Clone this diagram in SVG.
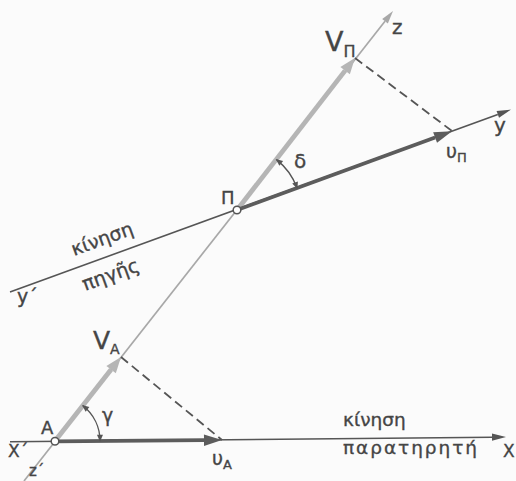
<svg xmlns="http://www.w3.org/2000/svg" width="516" height="481" viewBox="0 0 516 481">
<defs>
<style>
.t{font-family:"DejaVu Sans","Liberation Sans",sans-serif;fill:#454545;stroke:#454545;stroke-width:0.35}
.ax{stroke:#555;stroke-width:1.6;fill:none}
.zax{stroke:#a8a8a8;stroke-width:1.7;fill:none}
.vv{stroke:#b5b5b5;stroke-width:4.8;fill:none}
.uu{stroke:#5c5c5c;stroke-width:3.8;fill:none}
.dash{stroke:#555;stroke-width:1.8;stroke-dasharray:9 5;fill:none}
.arc{stroke:#555;stroke-width:1.4;fill:none}
</style>
<marker id="axD" markerUnits="userSpaceOnUse" markerWidth="14" markerHeight="8" refX="0" refY="4" orient="auto" overflow="visible"><path d="M0,0.4 L14,4 L0,7.6 z" fill="#555"/></marker>
<marker id="axL" markerUnits="userSpaceOnUse" markerWidth="14" markerHeight="8" refX="0" refY="4" orient="auto" overflow="visible"><path d="M0,0.4 L13,4 L0,7.6 z" fill="#a8a8a8"/></marker>
<marker id="vH" markerUnits="userSpaceOnUse" markerWidth="17" markerHeight="12" refX="0" refY="6" orient="auto" overflow="visible"><path d="M0,0 L16,6 L0,12 z" fill="#b5b5b5"/></marker>
<marker id="uH" markerUnits="userSpaceOnUse" markerWidth="19" markerHeight="12" refX="0" refY="6" orient="auto" overflow="visible"><path d="M0,0.3 L18,6 L0,11.7 z" fill="#5c5c5c"/></marker>
<marker id="aH" markerUnits="userSpaceOnUse" markerWidth="7" markerHeight="6" refX="6" refY="3" orient="auto-start-reverse" overflow="visible"><path d="M0,0 L7,3 L0,6 z" fill="#555"/></marker>
</defs>
<rect width="516" height="481" fill="#fbfbfb"/>
<g id="connectors">
<line class="zax" x1="24" y1="481" x2="385" y2="21.2" marker-end="url(#axL)"/>
<line class="ax" x1="10" y1="292" x2="497.8" y2="114.4" marker-end="url(#axD)"/>
<line class="ax" x1="10" y1="441.8" x2="492" y2="437.2" marker-end="url(#axD)"/>
<line class="vv" x1="55" y1="441" x2="111.1" y2="369.6" marker-end="url(#vH)"/>
<line class="vv" x1="237" y1="210" x2="345.1" y2="70.6" marker-end="url(#vH)"/>
<line class="uu" x1="55" y1="441.3" x2="204" y2="440.2" marker-end="url(#uH)"/>
<line class="uu" x1="237" y1="210" x2="435.1" y2="137.5" marker-end="url(#uH)"/>
<line class="dash" x1="121" y1="357" x2="222" y2="440"/>
<line class="dash" x1="355" y1="58" x2="452" y2="131"/>
<path class="arc" d="M82.8,405.6 A45,45 0 0 1 100,440.8" marker-start="url(#aH)" marker-end="url(#aH)"/>
<path class="arc" d="M276.5,159.6 A64,64 0 0 1 297.1,188.1" marker-start="url(#aH)" marker-end="url(#aH)"/>
</g>
<g id="node-A">
<circle cx="55" cy="441.3" r="3.8" fill="#fff" stroke="#555" stroke-width="1.5"/>
<text class="t" x="41" y="434" font-size="18">A</text>
</g>
<g id="node-P">
<circle cx="237" cy="210" r="3.8" fill="#fff" stroke="#555" stroke-width="1.5"/>
<text class="t" x="221" y="204" font-size="18">Π</text>
</g>
<g id="labels">
<text class="t" x="392" y="34" font-size="20">z</text>
<text class="t" x="494" y="132" font-size="20">y</text>
<text class="t" x="503" y="457" font-size="17">X</text>
<text class="t" x="8" y="457" font-size="17">X´</text>
<text class="t" x="17" y="303" font-size="19">y´</text>
<text class="t" x="29" y="476" font-size="15">z´</text>
<text class="t" x="325" y="51" font-size="27">V<tspan font-size="16" dy="6">Π</tspan></text>
<text class="t" x="93" y="349" font-size="25">V<tspan font-size="14" dy="5">A</tspan></text>
<text class="t" x="446" y="158" font-size="19">υ<tspan font-size="13" dy="4">Π</tspan></text>
<text class="t" x="212" y="465" font-size="19">υ<tspan font-size="13" dy="4">A</tspan></text>
<text class="t" x="294" y="168" font-size="20">δ</text>
<text class="t" x="102" y="422" font-size="19">γ</text>
<text class="t" x="343" y="426" font-size="18.5">κίνηση</text>
<text class="t" x="343" y="454" font-size="18.5" textLength="134" lengthAdjust="spacing">παρατηρητή</text>
<text class="t" font-size="19" transform="translate(74,256) rotate(-20)">κίνηση</text>
<text class="t" font-size="19.5" transform="translate(85,291) rotate(-20)">πηγῆς</text>
</g>
</svg>
